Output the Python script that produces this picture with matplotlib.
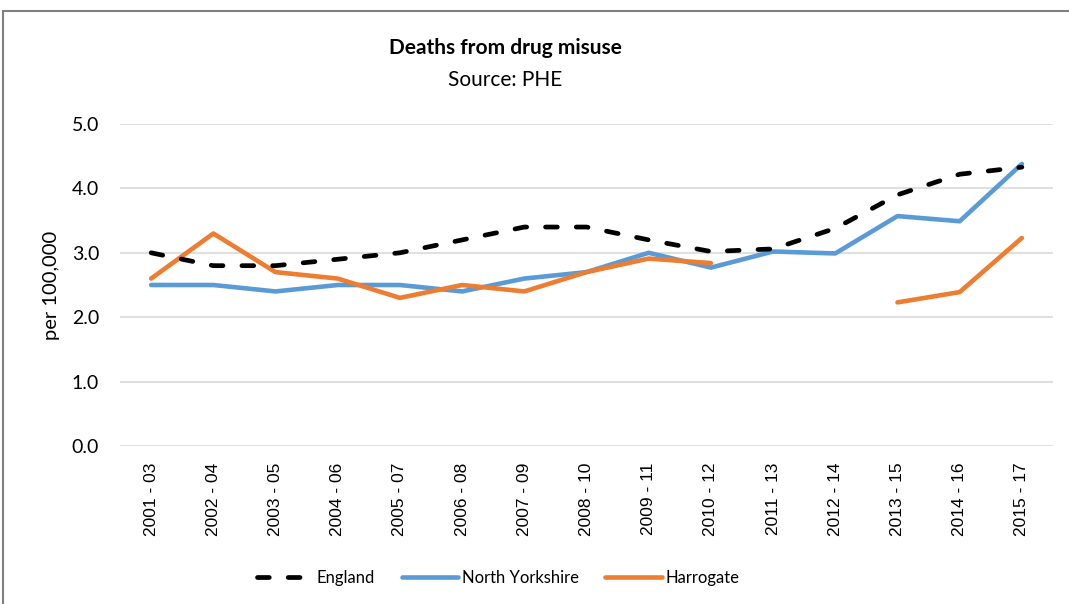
import numpy as np
import matplotlib
matplotlib.use("Agg")
import matplotlib.pyplot as plt
from matplotlib.patches import Rectangle

# Datos (muertes por 100.000)
periods = ["2001 - 03", "2002 - 04", "2003 - 05", "2004 - 06", "2005 - 07",
           "2006 - 08", "2007 - 09", "2008 - 10", "2009 - 11", "2010 - 12",
           "2011 - 13", "2012 - 14", "2013 - 15", "2014 - 16", "2015 - 17"]
england = [3.0, 2.8, 2.8, 2.9, 3.0, 3.2, 3.4, 3.4, 3.2, 3.02,
           3.06, 3.38, 3.9, 4.22, 4.33]
north_yorkshire = [2.5, 2.5, 2.4, 2.5, 2.5, 2.4, 2.6, 2.7, 3.0, 2.77,
                   3.02, 2.99, 3.57, 3.49, 4.38]
harrogate = [2.6, 3.3, 2.7, 2.6, 2.3, 2.5, 2.4, 2.7, 2.91, 2.84,
             np.nan, np.nan, 2.23, 2.39, 3.23]

calibri_like = "Lato"

fig = plt.figure(figsize=(10.69, 6.04), dpi=100)
ax = fig.add_axes([0.1123, 0.2616, 0.8727, 0.5331])

x = np.arange(len(periods))
ax.plot(x, england, color="black", lw=3.4, dashes=(2.5, 4.0),
        dash_capstyle="round", label="England", zorder=3)
ax.plot(x, north_yorkshire, color="#5B9BD5", lw=3.3,
        solid_capstyle="round", label="North Yorkshire", zorder=2)
ax.plot(x, harrogate, color="#ED7D31", lw=3.3,
        solid_capstyle="round", label="Harrogate", zorder=2)

ax.set_xlim(-0.5, len(periods) - 0.5)
ax.set_ylim(0, 5)
ax.set_yticks(np.arange(0, 5.01, 1.0))
ax.set_yticklabels([f"{v:.1f}" for v in np.arange(0, 5.01, 1.0)],
                   fontfamily=calibri_like, fontsize=14)
ax.set_xticks(x)
ax.set_xticklabels(periods, rotation=90, fontfamily="Liberation Sans",
                   fontsize=12.5)
ax.tick_params(axis="both", length=0)
ax.tick_params(axis="y", pad=15)
ax.tick_params(axis="x", pad=12)
ax.grid(axis="y", color="#d9d9d9", lw=1.2)
ax.set_axisbelow(True)
for s in ax.spines.values():
    s.set_visible(False)

# Titulo y subtitulo
fig.text(0.4724, 1 - 48 / 604, "Deaths from drug misuse", ha="center",
         va="center", fontsize=15, fontweight="bold", fontfamily=calibri_like)
fig.text(0.4724, 1 - 80 / 604, "Source: PHE", ha="center", va="center",
         fontsize=15, fontfamily=calibri_like)
fig.text(51 / 1069, 0.528, "per 100,000", rotation=90, ha="center",
         va="center", fontsize=14.5, fontfamily=calibri_like)

leg = fig.legend(loc="center", bbox_to_anchor=(498 / 1069, 1 - 578 / 604),
                 ncol=3, frameon=False, handlelength=3.4, handletextpad=0.2,
                 columnspacing=1.6, prop={"family": calibri_like, "size": 12})

# Borde del area del grafico
fig.patches.append(Rectangle((3 / 1069, -0.05), 1.2, 1 - 11 / 604 + 0.05,
                             transform=fig.transFigure, fill=False,
                             edgecolor="#7f7f7f", lw=1.5))

fig.savefig("out.png", dpi=100)
